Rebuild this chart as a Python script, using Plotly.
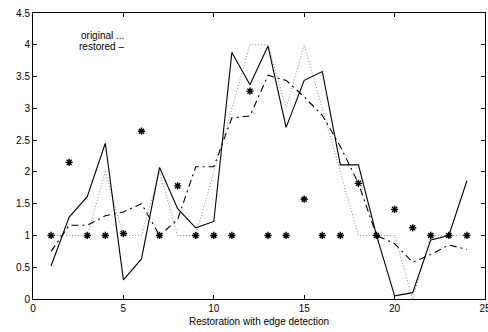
import plotly.graph_objects as go

x = list(range(1, 25))
original = [1, 1, 1, 2, 1, 1, 2, 1, 1, 2, 3, 4, 4, 3, 4, 3, 2, 1, 1, 1, 0, 1, 1, 1]
restored = [0.52, 1.29, 1.61, 2.45, 0.30, 0.63, 2.07, 1.42, 1.12, 1.22, 3.88, 3.37,
            3.98, 2.70, 3.44, 3.58, 2.11, 2.11, 1.0, 0.05, 0.10, 0.93, 1.0, 1.86]
restored_edge = [0.75, 1.16, 1.16, 1.31, 1.37, 1.50, 1.0, 1.25, 2.08, 2.08, 2.85, 2.88,
                 3.52, 3.44, 3.18, 2.89, 2.4, 1.82, 1.0, 0.87, 0.58, 0.70, 0.85, 0.78]
noisy = [1, 2.15, 1, 1, 1.03, 2.64, 1, 1.78, 1, 1, 1, 3.27,
         1, 1, 1.57, 1, 1, 1.82, 1, 1.41, 1.12, 1, 1, 1]

xticks = [0, 5, 10, 15, 20, 25]
yticks = [0, 0.5, 1, 1.5, 2, 2.5, 3, 3.5, 4, 4.5]
ytick_text = ["0", "0.5", "1", "1.5", "2", "2.5", "3", "3.5", "4", "4.5"]

FONT = "Liberation Sans"

fig = go.Figure()
fig.add_trace(go.Scatter(x=x, y=original, mode="lines",
                         line=dict(color="#888888", width=1, dash="1px,2px")))
fig.add_trace(go.Scatter(x=x, y=restored, mode="lines",
                         line=dict(color="black", width=1.1)))
fig.add_trace(go.Scatter(x=x, y=restored_edge, mode="lines",
                         line=dict(color="black", width=1.1, dash="7px,4px,2px,4px")))
fig.add_trace(go.Scatter(x=x, y=noisy, mode="markers",
                         marker=dict(symbol="asterisk-open", size=6, color="black",
                                     line=dict(color="black", width=1.4))))

fig.add_annotation(x=2.53, y=4.15, xref="x", yref="y", text="original ...",
                   showarrow=False, xanchor="left", yanchor="middle",
                   font=dict(size=10, color="black", family=FONT))
fig.add_annotation(x=2.45, y=3.97, xref="x", yref="y", text="restored \u2013",
                   showarrow=False, xanchor="left", yanchor="middle",
                   font=dict(size=10, color="black", family=FONT))
fig.add_annotation(x=0.5, y=0, xref="paper", yref="paper", yshift=-22,
                   text="Restoration with edge detection",
                   showarrow=False, xanchor="center", yanchor="middle",
                   font=dict(size=10, color="black", family=FONT))

axis_common = dict(showline=True, linecolor="black", linewidth=1, mirror="ticks",
                   ticks="inside", ticklen=4, tickcolor="black", tickwidth=1,
                   showgrid=False, zeroline=False, automargin=False,
                   ticklabeloverflow="allow",
                   tickfont=dict(size=10, color="black", family=FONT))

fig.update_xaxes(range=[0, 25], tickvals=xticks, **axis_common)
fig.update_yaxes(range=[0, 4.5], tickvals=yticks, ticktext=ytick_text, **axis_common)

fig.update_layout(width=488, height=332, showlegend=False,
                  margin=dict(l=33, r=3, t=13, b=33),
                  plot_bgcolor="white", paper_bgcolor="white",
                  font=dict(family=FONT, size=10, color="black"))

fig.write_html("out.html", config={"displayModeBar": False},
               post_script="document.body.style.margin='0';document.body.style.overflow='hidden';")
